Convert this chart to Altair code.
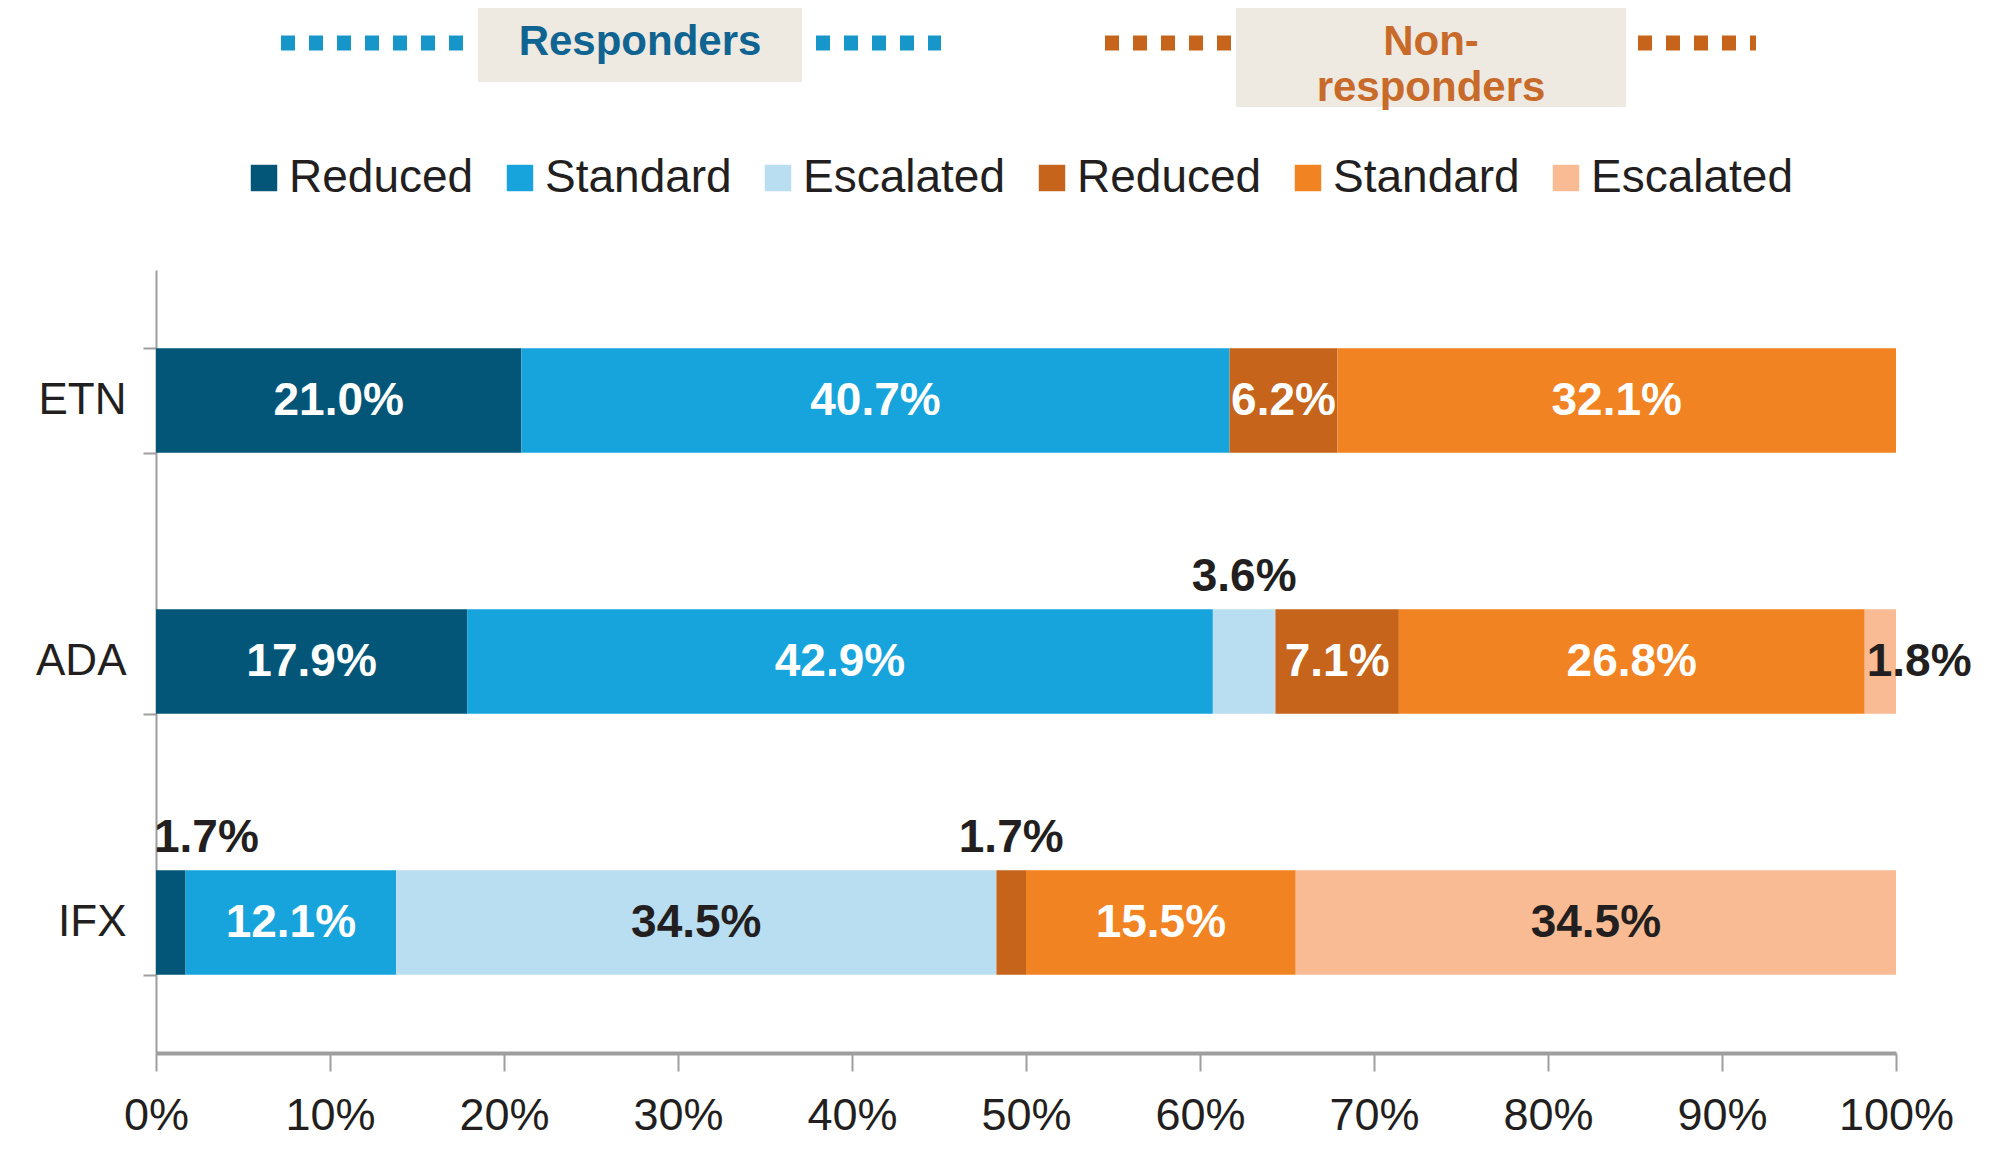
import altair as alt
import pandas as pd

# ---------------- data ----------------
drugs = ["ETN", "ADA", "IFX"]
series = [
    "Responders Reduced", "Responders Standard", "Responders Escalated",
    "Non-responders Reduced", "Non-responders Standard", "Non-responders Escalated",
]
etn = [21.0, 40.7, 0.0, 6.2, 32.1, 0.0]
ada = [17.9, 42.9, 3.6, 7.1, 26.8, 1.8]
ifx = [1.7, 12.1, 34.5, 1.7, 15.5, 34.5]
x_ticks = [0, 10, 20, 30, 40, 50, 60, 70, 80, 90, 100]
groups = ["Responders", "Non-responders"]

# ---------------- styles ----------------
colors = ["#045678", "#17A4DC", "#B9DDF1", "#C5641A", "#F28322", "#F9BB93"]
DARK = "#231F20"
GRAY = "#9E9E9E"
FONT = "Liberation Sans"
BLUE_TXT = "#0F6492"
BLUE_DOT = "#1796C9"
ORNG_TXT = "#C76A2A"
ORNG_DOT = "#C5641A"
BOX = "#EEEAE1"

rows = []
for drug, vals in zip(drugs, [etn, ada, ifx]):
    total = sum(vals)
    nz = [i for i, v in enumerate(vals) if v > 0]
    cum = 0.0
    for i, v in enumerate(vals):
        if v <= 0:
            continue
        start = cum / total * 100
        cum += v
        end = cum / total * 100
        if v >= 5:
            place = "in"
        elif i == nz[-1]:
            place = "after"
        elif i == nz[0]:
            place = "above_start"
        else:
            place = "above"
        rows.append(dict(drug=drug, series=series[i], value=v, start=start, end=end,
                         mid=(start + end) / 2, label=f"{v:.1f}%", place=place))
df = pd.DataFrame(rows)

W, H = 1740, 783

xscale = alt.Scale(domain=[0, 100], nice=False, zero=True)
xaxis = alt.Axis(values=x_ticks, labelExpr="datum.value + '%'", labelFontSize=45,
                 labelColor=DARK, labelPadding=22, tickSize=18, tickColor=GRAY,
                 tickWidth=2, domainColor=GRAY, domainWidth=4, grid=False, title=None,
                 labelFlush=False, labelFont=FONT)
yscale = alt.Scale(domain=drugs, paddingInner=0.6, paddingOuter=0.3)
yaxis = alt.Axis(title=None, labelFontSize=44, labelColor=DARK, labelPadding=17,
                 tickSize=13, tickColor=GRAY, tickWidth=2, domainColor=GRAY,
                 domainWidth=2, tickBand="extent", grid=False, labelFont=FONT)

Y = alt.Y("drug:N", sort=drugs, scale=yscale, axis=yaxis)

base = alt.Chart(df)

bars = base.mark_bar().encode(
    y=Y,
    x=alt.X("start:Q", scale=xscale, axis=xaxis),
    x2="end:Q",
    color=alt.Color(
        "series:N",
        scale=alt.Scale(domain=series, range=colors),
        legend=alt.Legend(
            orient="none", legendX=85, legendY=-115, direction="horizontal",
            columns=6, title=None, labelFontSize=46, labelColor=DARK,
            labelFont=FONT, symbolType="square", symbolSize=700,
            symbolStrokeWidth=0, labelOffset=2, columnPadding=23,
            labelExpr="split(datum.label, ' ')[1]", padding=0, labelLimit=400,
            symbolOpacity=1,
        ),
    ),
)

def txt(**kw):
    return base.mark_text(fontSize=46, fontWeight="bold", font=FONT, baseline="middle", **kw)

inside = txt(align="center").encode(
    y=Y,
    x=alt.X("mid:Q", scale=xscale, axis=xaxis),
    text="label:N",
    color=alt.condition("indexof(datum.series, 'Escalated') >= 0",
                        alt.value(DARK), alt.value("white")),
).transform_filter("datum.place == 'in'")

above = txt(align="center", dy=-85, color=DARK).encode(
    y=Y, x=alt.X("mid:Q", scale=xscale, axis=xaxis), text="label:N",
).transform_filter("datum.place == 'above'")

above_start = txt(align="left", dy=-85, dx=-2, color=DARK).encode(
    y=Y, x=alt.X("start:Q", scale=xscale, axis=xaxis), text="label:N",
).transform_filter("datum.place == 'above_start'")

after = txt(align="left", dx=2, color=DARK).encode(
    y=Y, x=alt.X("start:Q", scale=xscale, axis=xaxis), text="label:N",
).transform_filter("datum.place == 'after'")

# ---------------- group header ----------------
hdr = alt.Chart(pd.DataFrame({"group": groups[:1]}))
OX, OY = 1, 3  # shift of header relative to plot origin

def box(x1, x2, y1, y2):
    return hdr.mark_rect(color=BOX).encode(
        x=alt.value(x1 + OX), x2=alt.value(x2 + OX),
        y=alt.value(y1 + OY), y2=alt.value(y2 + OY))

def dots(x1, x2, col):
    return hdr.mark_rule(color=col, strokeWidth=15, strokeDash=[14, 14],
                         strokeCap="butt").encode(
        x=alt.value(x1 + OX), x2=alt.value(x2 + OX), y=alt.value(-230 + OY))

def htext(x, y, s, col):
    return hdr.mark_text(font=FONT, fontSize=42, fontWeight="bold", color=col,
                         align="center", baseline="alphabetic").encode(
        x=alt.value(x + OX), y=alt.value(y + OY), text=alt.value(s))

non_a, non_b = groups[1].split("-", 1)

header = [
    box(321, 645, -268, -191),
    box(1079, 1469, -268, -166),
    dots(124, 309, BLUE_DOT),
    dots(659, 784, BLUE_DOT),
    dots(948, 1076, ORNG_DOT),
    dots(1481, 1599, ORNG_DOT),
    htext(483, -218, groups[0], BLUE_TXT),
    htext(1274, -218, non_a + "-", ORNG_TXT),
    htext(1274, -172, non_b, ORNG_TXT),
]

chart = alt.layer(bars, inside, above, above_start, after, *header).properties(
    width=W, height=H,
    padding={"left": 148, "top": 262, "right": 90, "bottom": 100},
    autosize=alt.AutoSizeParams(type="none"),
).configure(font=FONT).configure_view(stroke=None)

chart.save("out.html", embed_options={"renderer": "svg", "actions": False})
